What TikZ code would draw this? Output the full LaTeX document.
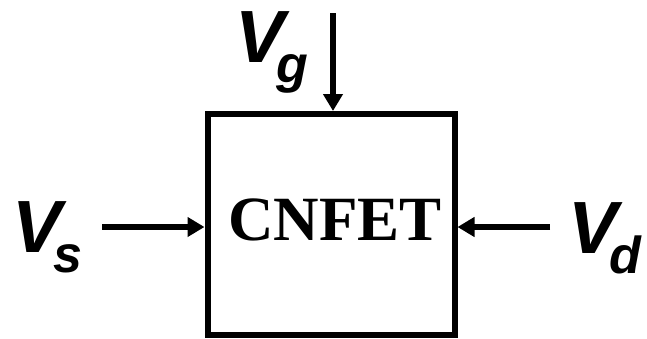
\documentclass[tikz,border=0pt]{standalone}
\usepackage{fontspec}
\setmainfont{Liberation Serif}
\newfontfamily\labelfont{Liberation Sans}
\usepackage{tikz}
\usetikzlibrary{arrows.meta,positioning}
\newcommand{\volt}[1]{V\kern-8pt\raisebox{-20pt}{\fontsize{52}{52}\selectfont #1}}

\begin{document}
\begin{tikzpicture}[
  x=1pt, y=-1pt,
  device/.style={
    rectangle, draw=black, line width=6pt,
    minimum width=247pt, minimum height=221pt,
    font=\fontsize{63}{63}\selectfont\bfseries, text depth=10pt
  },
  pin/.style={font=\labelfont\fontsize{74}{74}\selectfont\bfseries\itshape,
    inner sep=0pt, anchor=base west},
  arrow/.style={-{Triangle[length=17pt,width=19pt]}, line width=6.5pt}
]
\useasboundingbox (0,0) rectangle (647,338);

\node[device] (cnfet) at (331,224.5) {\hspace*{8pt}CNFET};

% terminals
\node[pin] (vs) at (12,252) {\volt{s}};
\node[pin] (vg) at (235,62) {\volt{g}};
\node[pin] (vd) at (568,253) {\volt{d}};

\coordinate (vsend) at (102,227);
\coordinate (vgend) at (333,13);
\coordinate (vdend) at (550,227);

\draw[arrow] (vsend) -- (vsend -| cnfet.west);
\draw[arrow] (vgend) -- (vgend |- cnfet.north);
\draw[arrow] (vdend) -- (vdend -| cnfet.east);
\end{tikzpicture}
\end{document}
